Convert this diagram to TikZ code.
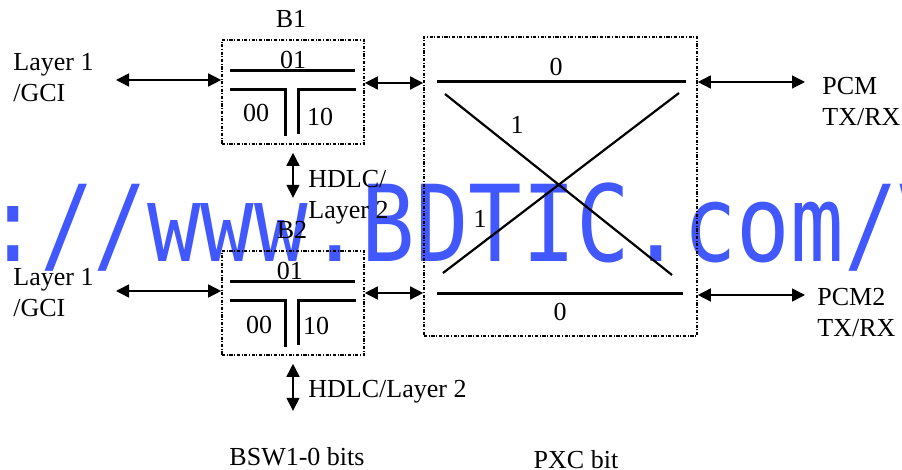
\documentclass[tikz,border=0pt]{standalone}
\usepackage{fontspec}
\usepackage{graphicx}
\setmainfont{Liberation Serif}
\newfontfamily\wmfont{DejaVu Sans Mono}
\usetikzlibrary{arrows.meta}
\definecolor{wmblue}{RGB}{66,88,255}

\begin{document}
\begin{tikzpicture}[x=0.5pt,y=-0.5pt,
  every node/.style={inner sep=0pt,font=\fontsize{13}{15.5}\selectfont},
  txt/.style={anchor=north west,align=left},
  selbox/.style={draw,line width=0.8pt,dash pattern=on 1.6pt off 0.8pt on 0.5pt off 0.8pt,minimum width=71pt,minimum height=52pt},
  bar/.style={line width=1.5pt},
  cross/.style={line width=1.1pt},
  link/.style={line width=0.75pt,{Triangle[length=6.5pt,width=6.5pt]}-{Triangle[length=6.5pt,width=6.5pt]}}]

\useasboundingbox (0,0) rectangle (902,470);

% watermark
\begin{scope}
\clip (0,0) rectangle (902,470);
\node[anchor=base west,text=wmblue,font=\wmfont\fontsize{53}{53}\selectfont] (wm) at (-14,262) {\scalebox{0.84}[1]{://www.BDTIC.com/V}};
\end{scope}

% boxes
\node[selbox] (b1) at (293,92) {};
\node[selbox] (b2) at (293,303) {};
\node[selbox,minimum width=136.5pt,minimum height=149.5pt] (pxc) at (560.5,186.5) {};

\foreach \b in {b1,b2} {
  \draw[bar] ([shift={(-63,-21)}]\b.center) -- ++(125,0);
  \draw[bar] ([shift={(-63,-2)}]\b.center) -- ++(55,0) -- ++(0,46);
  \draw[bar] ([shift={(63,-2)}]\b.center) -- ++(-58,0) -- ++(0,44);
}

\node (sa) at (293,60) {01};
\node (sb) at (256,113) {00};
\node (sc) at (320,117) {10};
\node (sd) at (290,271) {01};
\node (se) at (259,325) {00};
\node (sf) at (316,326) {10};

% crossover
\draw[bar] (437,82) -- (686,82);
\draw[bar] (437,294) -- (683,294);
\draw[cross] (445,94) -- (672,275);
\draw[cross] (679,93) -- (443,273);

\node (pa) at (556,67) {0};
\node (pb) at (517,125) {1};
\node (pc) at (480,219) {1};
\node (pd) at (560,312) {0};

% texts
\node[txt] (gcia) at (13,53) {Layer 1\\/GCI};
\node[txt] (gcib) at (13,268) {Layer 1\\/GCI};
\node[anchor=north] (b1lbl) at (291,10) {B1};
\node[anchor=north] (b2lbl) at (292,221) {B2};
\node[txt] (hdlca) at (308,170) {HDLC/\\Layer 2};
\node[txt] (hdlcb) at (308,380) {HDLC/Layer 2};
\node[txt] (pcma) at (822,77) {PCM\\TX/RX};
\node[txt] (pcmb) at (817,288) {PCM2\\TX/RX};
\node[anchor=north] (bsw) at (297,447) {BSW1-0 bits};
\node[anchor=north] (pxcbit) at (576,450) {PXC bit};

% arrows
\coordinate (ea) at (116,80);
\draw[link] (ea) -- (ea -| b1.west);
\coordinate (eb) at (116,291);
\draw[link] (eb) -- (eb -| b2.west);
\draw[link] ([yshift=4.5pt]b1.east) -- ([yshift=4.5pt]b1.east -| pxc.west);
\draw[link] ([yshift=5pt]b2.east) -- ([yshift=5pt]b2.east -| pxc.west);
\coordinate (ec) at (805,82);
\draw[link] (ec -| pxc.east) -- (ec);
\coordinate (ed) at (805,295);
\draw[link] (ed -| pxc.east) -- (ed);
\draw[link] ([yshift=-4pt]b1.south) -- ++(0,45);
\draw[link] ([yshift=-4pt]b2.south) -- ++(0,47);

\end{tikzpicture}
\end{document}
